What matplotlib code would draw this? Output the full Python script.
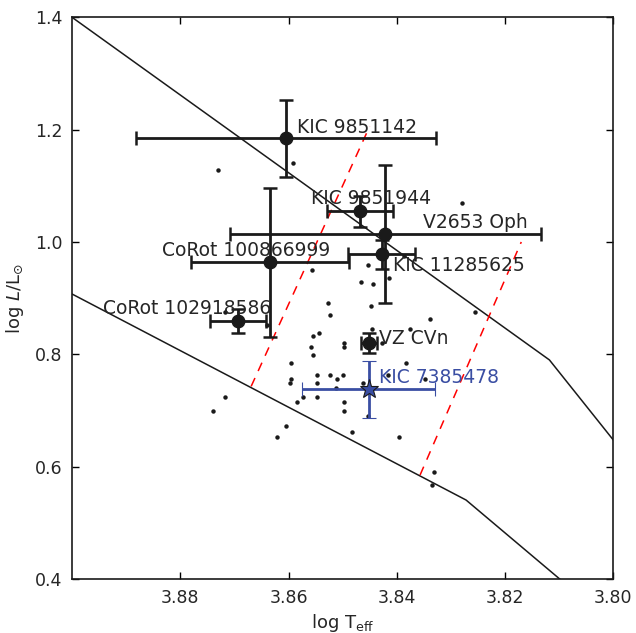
import matplotlib
matplotlib.use("Agg")
from matplotlib import pyplot as plt

# field stars (log Teff, log L/Lsun)
field_teff = [3.8731, 3.8591, 3.8279, 3.8557, 3.8454, 3.8386, 3.8415, 3.8467, 3.8444,
              3.8527, 3.8447, 3.8524, 3.8255, 3.8338, 3.8717, 3.8640, 3.8554, 3.8543,
              3.8445, 3.8376, 3.8497, 3.8497, 3.8558, 3.8554, 3.8428, 3.8595, 3.8383,
              3.8595, 3.8598, 3.8547, 3.8524, 3.8500, 3.8510, 3.8547, 3.8513, 3.8463,
              3.8417, 3.8347, 3.8574, 3.8547, 3.8585, 3.8497, 3.8497, 3.8454, 3.8717,
              3.8739, 3.8605, 3.8622, 3.8483, 3.8396, 3.8332, 3.8335]
field_lum = [1.1275, 1.140, 1.0687, 0.9494, 0.9592, 0.9749, 0.9352, 0.9289, 0.9245,
             0.8919, 0.8867, 0.8693, 0.8752, 0.8634, 0.8755, 0.8515, 0.8324, 0.8385,
             0.8452, 0.8456, 0.8203, 0.8128, 0.8128, 0.7993, 0.8207, 0.785, 0.785,
             0.7562, 0.7482, 0.7633, 0.7633, 0.7633, 0.7562, 0.7482, 0.7405, 0.7482,
             0.7633, 0.7562, 0.7241, 0.7241, 0.7158, 0.7158, 0.6987, 0.6898, 0.7241,
             0.6987, 0.672, 0.6532, 0.6623, 0.6532, 0.5909, 0.5678]

# named stars
names = ["KIC 9851142", "KIC 9851944", "V2653 Oph", "KIC 11285625",
         "CoRot 100866999", "CoRot 102918586", "VZ CVn"]
teff = [3.8604, 3.8468, 3.8421, 3.8428, 3.8634, 3.8693, 3.8451]
lum = [1.1845, 1.0545, 1.0144, 0.978, 0.9637, 0.8595, 0.8207]
teff_err = [0.0277, 0.0061, 0.0288, 0.0062, 0.0146, 0.0052, 0.0015]
lum_err = [0.068, 0.028, 0.123, 0.026, 0.132, 0.021, 0.018]
label_x = [3.8584, 3.8558, 3.8351, 3.8407, 3.8834, 3.8943, 3.8433]
label_y = [1.204, 1.0777, 1.035, 0.9583, 0.985, 0.8818, 0.8283]

# the target star
target_name = "KIC 7385478"
target_teff, target_lum = 3.8452, 0.7375
target_teff_err, target_lum_err = 0.0123, 0.051
target_label = (3.8433, 0.7589)

# evolutionary boundaries
upper_x = [3.90, 3.8118, 3.80]
upper_y = [1.40, 0.790, 0.6475]
lower_x = [3.90, 3.8272, 3.8099]
lower_y = [0.9074, 0.5406, 0.40]

# instability strip edges
blue_edge_x = [3.8669, 3.8450]
blue_edge_y = [0.743, 1.206]
red_edge_x = [3.8357, 3.8170]
red_edge_y = [0.585, 1.000]

fig = plt.figure(figsize=(6.36, 6.33), dpi=100)
ax = fig.add_axes([0.1132, 0.0853, 0.8511, 0.8874])

ax.plot(upper_x, upper_y, color='#1a1a1a', lw=1.1)
ax.plot(lower_x, lower_y, color='#1a1a1a', lw=1.1)
ax.plot(blue_edge_x, blue_edge_y, color='red', lw=1.1, ls=(0, (6, 5)))
ax.plot(red_edge_x, red_edge_y, color='red', lw=1.1, ls=(0, (6, 5)))

ax.plot(field_teff, field_lum, 'o', color='#1a1a1a', ms=3.2, mew=0)

ax.errorbar(teff, lum, xerr=teff_err, yerr=lum_err, fmt='o', color='#1a1a1a',
            ms=9, elinewidth=2, capsize=5, capthick=1.8, zorder=4)
for name, lx, ly in zip(names, label_x, label_y):
    ax.text(lx, ly, name, fontsize=13.5, color='#262626', ha='left', va='center', zorder=5)

blue = '#3a4ea3'
ax.errorbar(target_teff, target_lum, xerr=target_teff_err, yerr=target_lum_err,
            fmt='*', color=blue, mfc=blue, mec='#1a1a1a', mew=0.8, ms=14,
            elinewidth=2, capsize=5, capthick=1.8, zorder=4)
ax.text(target_label[0], target_label[1], target_name, fontsize=13.5, color=blue,
        ha='left', va='center', zorder=5)

ax.set_xlim(3.90, 3.80)
ax.set_ylim(0.4, 1.4)
ax.set_xticks([3.88, 3.86, 3.84, 3.82, 3.80])
ax.set_yticks([0.4, 0.6, 0.8, 1.0, 1.2, 1.4])
ax.tick_params(direction='in', top=True, right=True, length=5, width=1,
               labelsize=12.5, labelcolor='#262626', pad=7)
for sp in ax.spines.values():
    sp.set_linewidth(1.2)
    sp.set_color('#1a1a1a')

ax.set_xlabel(r'log T$_{\rm eff}$', fontsize=13, color='#262626', labelpad=4)
ax.set_ylabel(r'log $L$/L$_{\odot}$', fontsize=13, color='#262626', labelpad=6)

fig.savefig('out.png', dpi=100)
